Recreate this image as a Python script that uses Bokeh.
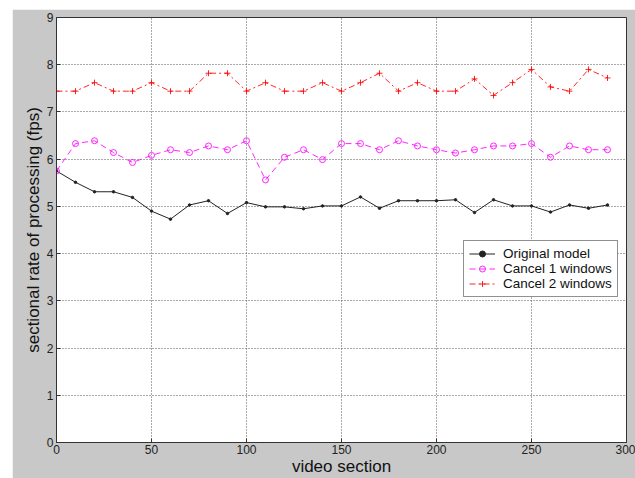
from bokeh.plotting import figure
from bokeh.models import Legend, LegendItem, FixedTicker, Range1d
from bokeh.embed import file_html
from bokeh.resources import INLINE

# ---- data ----
sections = [0, 10, 20, 30, 40, 50, 60, 70, 80, 90, 100, 110, 120, 130, 140,
            150, 160, 170, 180, 190, 200, 210, 220, 230, 240, 250, 260, 270, 280, 290]
original = [5.75, 5.51, 5.31, 5.31, 5.19, 4.90, 4.73, 5.03, 5.12, 4.85, 5.08, 4.99, 4.99, 4.95, 5.01,
            5.01, 5.20, 4.96, 5.12, 5.12, 5.12, 5.14, 4.87, 5.14, 5.01, 5.01, 4.88, 5.03, 4.96, 5.03]
cancel1 = [5.75, 6.33, 6.39, 6.14, 5.93, 6.08, 6.20, 6.14, 6.28, 6.20, 6.39, 5.56, 6.04, 6.20, 5.99,
           6.33, 6.33, 6.20, 6.39, 6.28, 6.20, 6.13, 6.20, 6.28, 6.28, 6.33, 6.04, 6.28, 6.20, 6.20]
cancel2 = [7.44, 7.44, 7.62, 7.44, 7.44, 7.62, 7.44, 7.44, 7.82, 7.82, 7.44, 7.62, 7.44, 7.44, 7.62,
           7.44, 7.62, 7.82, 7.44, 7.62, 7.44, 7.44, 7.70, 7.35, 7.62, 7.90, 7.53, 7.44, 7.90, 7.72]
series_names = ["Original model", "Cancel 1 windows", "Cancel 2 windows"]
x_ticks = [0, 50, 100, 150, 200, 250, 300]
y_ticks = [0, 1, 2, 3, 4, 5, 6, 7, 8, 9]

FONT = "Liberation Sans"

p = figure(width=623, height=469, output_backend="svg", toolbar_location=None,
           x_range=Range1d(0, 300), y_range=Range1d(0, 9),
           min_border_left=44, min_border_right=9, min_border_top=8, min_border_bottom=35)
p.margin = (9, 0, 0, 12)
p.border_fill_color = "#c8c8c8"
p.background_fill_color = "white"
p.outline_line_color = "#333333"
p.outline_line_width = 1

for ax, ticks in ((p.xaxis[0], x_ticks), (p.yaxis[0], y_ticks)):
    ax.ticker = FixedTicker(ticks=ticks)
    ax.major_tick_in = 4
    ax.major_tick_out = 0
    ax.minor_tick_line_color = None
    ax.axis_line_color = "#333333"
    ax.major_tick_line_color = "#333333"
    ax.major_label_text_font = FONT
    ax.major_label_text_font_size = "12px"
    ax.major_label_text_color = "#222222"
    ax.axis_label_text_font = FONT
    ax.axis_label_text_font_size = "17px"
    ax.axis_label_text_font_style = "normal"
    ax.axis_label_text_color = "#111111"

p.xaxis.axis_label = "video section"
p.yaxis.axis_label = "sectional rate of processing (fps)"
p.xaxis.major_label_standoff = 2
p.xaxis.axis_label_standoff = 0
p.yaxis.major_label_standoff = 3
p.yaxis.axis_label_standoff = 1

for g in (p.xgrid[0], p.ygrid[0]):
    g.grid_line_color = "#444444"
    g.grid_line_dash = "1 2"
    g.grid_line_width = 1
    g.grid_line_alpha = 0.9

# Original model: black solid with dots
l0 = p.line(sections, original, line_color="#222222", line_width=1)
m0 = p.scatter(sections, original, marker="circle", size=2.5, fill_color="#222222", line_color="#222222")
# Cancel 1: magenta dashed with circles
l1 = p.line(sections, cancel1, line_color="#ff00ff", line_width=1, line_dash="6 4", line_alpha=0.85)
m1 = p.scatter(sections, cancel1, marker="circle", size=6, fill_color=None, line_color="#ff00ff", line_alpha=0.85)
# Cancel 2: red dash-dot with plus markers
l2 = p.line(sections, cancel2, line_color="#ff0000", line_width=1, line_dash="6 3 2 3", line_alpha=0.85)
m2 = p.scatter(sections, cancel2, marker="cross", size=6, line_color="#ff0000", line_alpha=0.85)

legend = Legend(items=[LegendItem(label=series_names[0], renderers=[l0, m0]),
                       LegendItem(label=series_names[1], renderers=[l1, m1]),
                       LegendItem(label=series_names[2], renderers=[l2, m2])],
                location=(407, 145))
legend.label_text_font = FONT
legend.label_text_font_size = "13.5px"
legend.label_text_color = "#111111"
legend.border_line_color = "#222222"
legend.border_line_width = 1
legend.background_fill_color = "white"
legend.background_fill_alpha = 1
legend.padding = 5
legend.margin = 0
legend.spacing = 0
legend.label_height = 15
legend.glyph_height = 15
legend.glyph_width = 26
legend.label_standoff = 8
p.add_layout(legend)

open("out.html", "w").write(file_html(p, INLINE))
